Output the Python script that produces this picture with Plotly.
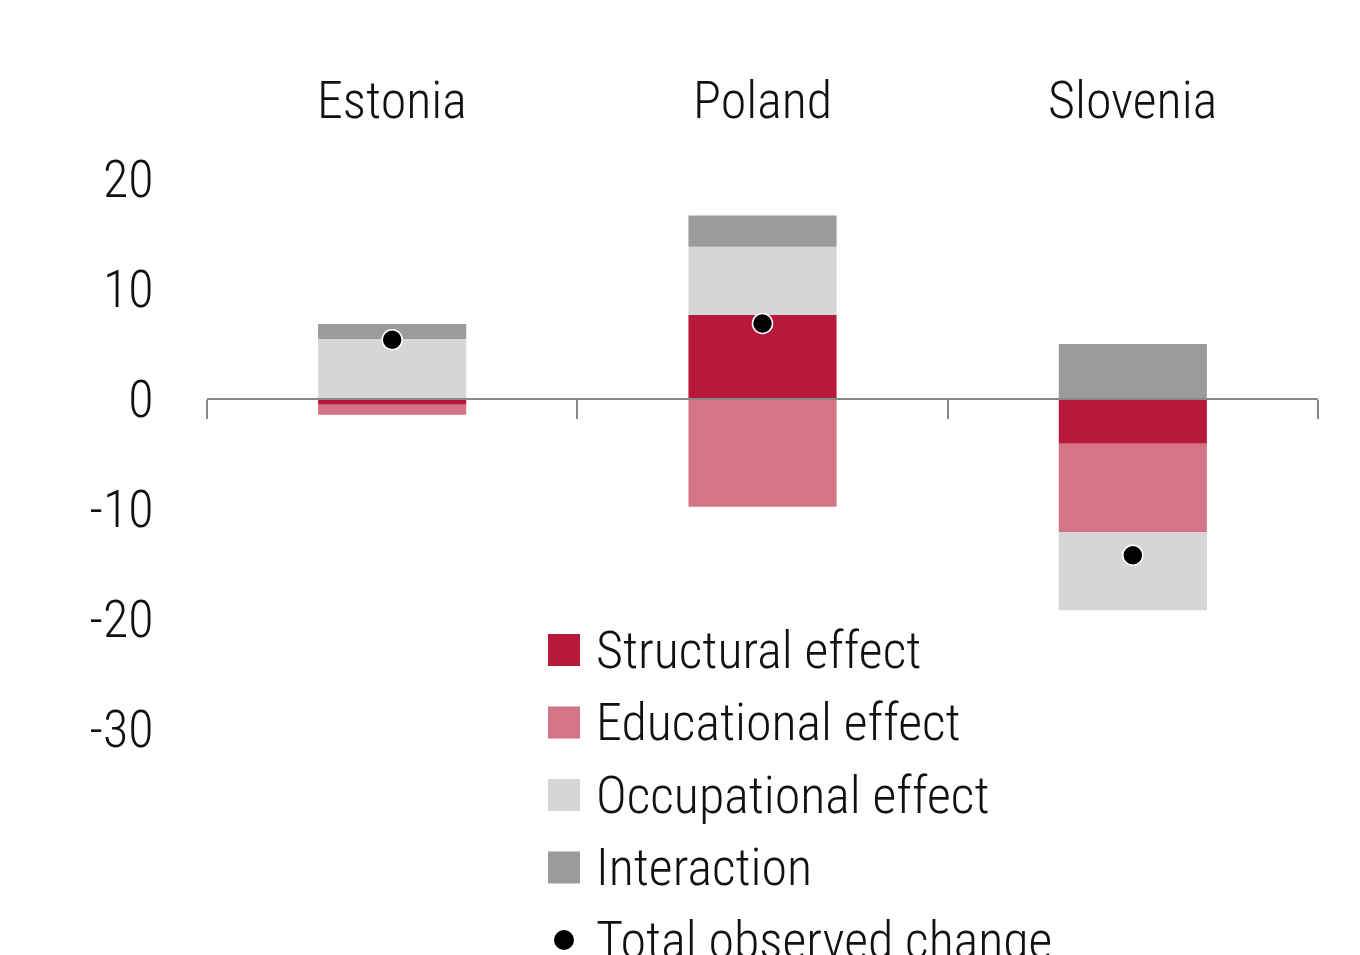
import plotly.graph_objects as go

countries = ["Estonia", "Poland", "Slovenia"]
structural = [-0.52, 7.64, -4.06]
educational = [-0.91, -9.80, -8.06]
occupational = [5.45, 6.20, -7.09]
interaction = [1.36, 2.85, 5.00]
total_change = [5.39, 6.87, -14.20]

series_names = ["Structural effect", "Educational effect", "Occupational effect", "Interaction"]
series_colors = ["#B8183A", "#D47486", "#D6D6D6", "#9B9B9B"]
dot_name = "Total observed change"

y_ticks = [20, 10, 0, -10, -20, -30]
y_ticktext = ["20", "10", "0", "-10", "-20", "-30"]

W, H = 1360, 955
OFF = 8  # page body margin offset
# target plot area in page pixels: x 207..1318, y 157..762
ML, MR, MT, MB = 207 - OFF, 42 + OFF, 157 - OFF, 193 + OFF
YMIN, YMAX = -33, 22
PH = H - MT - MB
PW = W - ML - MR
FONT = "Roboto Condensed, Liberation Sans Narrow, DejaVu Sans Condensed, Arial Narrow, sans-serif"
WEIGHT = 300


def py(pix):
    return (157 + PH - pix) / PH


def px(pix):
    return (pix - 207) / PW


xpos = list(range(len(countries)))
fig = go.Figure()
for name, vals, col in zip(series_names, [structural, educational, occupational, interaction], series_colors):
    fig.add_trace(go.Bar(x=xpos, y=vals, name=name, marker=dict(color=col, line=dict(width=0)),
                         width=0.4, showlegend=False))
fig.add_trace(go.Scatter(x=xpos, y=total_change, mode="markers", name=dot_name, showlegend=False,
                         marker=dict(color="black", size=20, line=dict(color="white", width=1.5))))

annotations = []
for i, c in enumerate(countries):
    annotations.append(dict(x=i, xref="x", y=py(101), yref="paper", text=c, showarrow=False,
                            xanchor="center", yanchor="middle",
                            font=dict(size=52, color="#111", family=FONT, weight=WEIGHT)))

shapes = []
leg_x = px(548)
leg_y0 = 650
leg_step = 72.5
for k, (name, col) in enumerate(zip(series_names, series_colors)):
    yc = py(leg_y0 + k * leg_step)
    shapes.append(dict(type="rect", xref="paper", yref="paper", xsizemode="pixel", ysizemode="pixel",
                       xanchor=leg_x, yanchor=yc, x0=0, x1=32, y0=-16, y1=16,
                       fillcolor=col, line=dict(width=0)))
    annotations.append(dict(x=px(594), y=yc, xref="paper", yref="paper", text=name, showarrow=False,
                            xanchor="left", yanchor="middle",
                            font=dict(size=52, color="#111", family=FONT, weight=WEIGHT)))
ycd = py(leg_y0 + 4 * leg_step)
shapes.append(dict(type="circle", xref="paper", yref="paper", xsizemode="pixel", ysizemode="pixel",
                   xanchor=px(564), yanchor=ycd, x0=-10, x1=10, y0=-10, y1=10,
                   fillcolor="black", line=dict(width=0)))
annotations.append(dict(x=px(594), y=ycd, xref="paper", yref="paper", text=dot_name, showarrow=False,
                        xanchor="left", yanchor="middle",
                        font=dict(size=52, color="#111", family=FONT, weight=WEIGHT)))

fig.update_layout(
    width=W, height=H, margin=dict(l=ML, r=MR, t=MT, b=MB),
    paper_bgcolor="white", plot_bgcolor="white",
    barmode="relative", bargap=0.6,
    font=dict(family=FONT, size=52, color="#111", weight=WEIGHT),
    xaxis=dict(range=[-0.5, 2.5], anchor="free", position=(0 - YMIN) / (YMAX - YMIN),
               tickvals=[-0.5, 0.5, 1.5, 2.5], showticklabels=False, ticks="outside", ticklen=19,
               tickwidth=2, tickcolor="#888", showline=True, linecolor="#888", linewidth=2,
               showgrid=False, zeroline=False, fixedrange=True),
    yaxis=dict(range=[YMIN, YMAX], tickvals=y_ticks, ticktext=y_ticktext, showgrid=False,
               zeroline=False, showline=False, ticks="outside", ticklen=42, tickcolor="rgba(0,0,0,0)",
               tickfont=dict(size=52, color="#111", family=FONT, weight=WEIGHT)),
    annotations=annotations, shapes=shapes, showlegend=False,
)

fig.write_html("out.html")
